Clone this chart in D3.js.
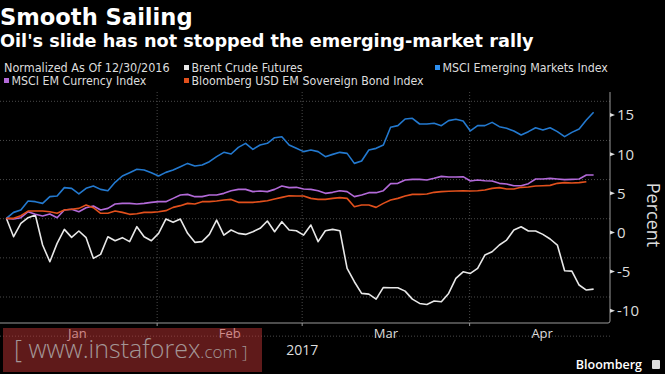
<!DOCTYPE html>
<html>
<head>
<meta charset="utf-8">
<script src="https://cdn.jsdelivr.net/npm/d3@7"></script>
<style>
  html, body { margin: 0; padding: 0; background: #000; }
  svg { display: block; }
</style>
</head>
<body>
<div class="container"></div>
<script>
// values are percent change, one per trading day from 12/30/2016
var brent = [1.80, -0.55, 1.16, 1.88, 2.22, -1.61, -3.74, -1.40, 0.39, -0.63, 0.18, -0.67,
  -3.31, -2.80, -0.55, -1.06, -0.67, -1.18, 0.73, -0.55, -1.06, -0.12, 1.71, 1.29, 1.71,
  -0.12, -1.27, -1.18, -0.25, 1.58, -0.34, 0.31, -0.12, -0.25, 0.09, 0.52, 1.46, 0.09,
  1.37, 0.31, 0.22, -0.34, 0.95, -1.18, 0.22, 0.39, 0.22, -4.60, -6.30, -7.79, -7.88,
  -8.52, -7.03, -7.07, -7.07, -7.50, -8.52, -9.07, -9.20, -8.77, -8.86, -7.79, -5.88,
  -5.03, -5.24, -4.60, -2.89, -2.47, -1.61, -0.98, 0.31, 0.73, 0.18, 0.18, -0.25, -0.84,
  -1.61, -4.89, -4.94, -6.72, -7.36, -7.24];
var msciEm = [1.80, 2.56, 2.86, 4.01, 3.93, 3.71, 4.57, 4.65, 5.72, 5.63, 4.91, 5.63, 5.93,
  5.50, 5.33, 6.40, 7.21, 7.63, 8.06, 7.97, 7.63, 7.21, 7.67, 7.97, 8.40, 8.82, 8.48, 8.61,
  9.04, 9.68, 10.23, 10.02, 10.87, 11.38, 10.61, 11.17, 11.38, 12.10, 12.23, 11.17, 10.74,
  10.32, 10.53, 10.32, 9.68, 9.97, 10.23, 10.10, 8.82, 9.12, 10.53, 10.74, 11.17, 13.43,
  13.64, 14.49, 14.58, 13.85, 13.85, 13.94, 13.64, 14.28, 14.45, 14.24, 12.96, 13.64,
  13.64, 14.06, 13.51, 13.30, 12.96, 12.44, 12.87, 13.38, 13.08, 13.38, 12.87, 12.23,
  12.78, 13.21, 14.37, 15.35];
var emCurrency = [1.80, 1.71, 1.88, 2.65, 2.31, 2.10, 2.35, 1.88, 2.86, 2.95, 2.65, 3.16,
  3.37, 2.86, 3.07, 3.63, 3.71, 3.71, 3.63, 3.71, 3.84, 3.93, 3.93, 4.35, 4.78, 4.86, 4.57,
  4.57, 4.78, 4.78, 4.99, 5.33, 5.50, 5.50, 5.21, 5.29, 5.21, 5.50, 5.93, 5.72, 5.76, 5.55,
  5.50, 5.33, 4.99, 5.12, 5.33, 5.21, 4.57, 4.78, 5.08, 5.08, 5.33, 6.23, 6.27, 6.70, 6.78,
  6.78, 6.70, 6.91, 7.16, 7.08, 7.08, 7.12, 6.57, 6.70, 6.61, 6.57, 6.27, 6.18, 5.97, 5.97,
  6.23, 6.82, 6.82, 6.91, 6.82, 6.74, 6.78, 6.82, 7.33, 7.33];
var emBond = [1.80, 1.80, 2.14, 2.73, 2.73, 2.73, 2.65, 2.44, 2.86, 2.95, 3.07, 3.50, 3.16,
  2.44, 2.44, 2.73, 2.56, 2.31, 2.39, 2.56, 2.56, 2.65, 2.78, 3.20, 3.42, 3.71, 3.63, 3.93,
  3.93, 4.01, 4.14, 4.22, 3.84, 3.84, 3.84, 3.93, 4.05, 4.27, 4.48, 4.69, 4.65, 4.65, 4.35,
  4.22, 4.22, 4.35, 4.44, 4.35, 3.29, 3.50, 3.50, 3.20, 3.71, 4.14, 4.35, 4.65, 4.86, 4.86,
  4.91, 5.12, 5.21, 5.25, 5.29, 5.33, 5.29, 5.33, 5.42, 5.63, 5.72, 5.55, 5.55, 5.76, 5.80,
  5.93, 5.97, 6.01, 6.27, 6.36, 6.31, 6.36, 6.48];

var months = ['Jan', 'Feb', 'Mar', 'Apr'];
// month edges, in trading-day index
var monthEdges = [-1.2, 20.8, 40.8, 63.9, 83.9];
var yTicks = [-10, -5, 0, 5, 10, 15];
// the dotted grid sits a little above each labelled tick in the picture
var gridShift = 1.75;

var seriesNames = ['Brent Crude Futures', 'MSCI Emerging Markets Index',
  'MSCI EM Currency Index', 'Bloomberg USD EM Sovereign Bond Index'];
var seriesColors = ['#e8e8e8', '#2379cf', '#b36ad9', '#e2501c'];
var seriesData = [brent, msciEm, emCurrency, emBond];

var width = 665, height = 374;
var plotLeft = 0, plotRight = 610, plotTop = 92, plotBottom = 323;

var svg = d3.select('.container').append('svg')
  .attr('width', width)
  .attr('height', height)
  .style('background', '#000');

var x = d3.scaleLinear().domain([-0.876, 83.26]).range([plotLeft, plotRight]);
var y = d3.scaleLinear().domain([-10, 15]).range([310.7, 115]);

// titles
svg.append('text').attr('x', 0).attr('y', 25)
  .attr('font-family', 'DejaVu Sans').attr('font-weight', 'bold').attr('font-size', 22.6)
  .attr('fill', '#fff').text('Smooth Sailing');
svg.append('text').attr('x', 0).attr('y', 47)
  .attr('font-family', 'DejaVu Sans').attr('font-weight', 'bold').attr('font-size', 17.7)
  .attr('fill', '#fff').text("Oil's slide has not stopped the emerging-market rally");

// legend
var legendFont = "'Liberation Sans Narrow', 'DejaVu Sans Condensed', sans-serif";
svg.append('text').attr('x', 4).attr('y', 72)
  .attr('font-family', legendFont).attr('font-size', 12.5).attr('fill', '#ddd')
  .text('Normalized As Of 12/30/2016');
var legendPos = [[184, 72], [435, 72], [4, 85], [184, 85]];
var legend = svg.append('g').selectAll('g')
  .data(seriesNames)
  .enter().append('g')
  .attr('transform', function(d, i) { return 'translate(' + legendPos[i][0] + ',' + legendPos[i][1] + ')'; });
legend.append('rect').attr('x', 0).attr('y', -7).attr('width', 5).attr('height', 5)
  .attr('fill', function(d, i) { return i == 1 ? '#2d8ff0' : seriesColors[i]; });
legend.append('text').attr('x', 7.5).attr('y', 0)
  .attr('font-family', legendFont).attr('font-size', 12.3).attr('fill', '#ddd')
  .text(function(d) { return d; });

// grid
var grid = svg.append('g').attr('stroke', '#4a4a4a').attr('stroke-dasharray', '1,2');
grid.selectAll('line.h')
  .data(yTicks.concat([20]).map(function(t) { return t - 5 + gridShift; }).filter(function(v) { return y(v) > plotTop; }))
  .enter().append('line')
  .attr('x1', plotLeft).attr('x2', plotRight)
  .attr('y1', function(d) { return y(d); }).attr('y2', function(d) { return y(d); });
grid.selectAll('line.v')
  .data(monthEdges.slice(1, 4))
  .enter().append('line')
  .attr('y1', plotTop).attr('y2', plotBottom)
  .attr('x1', function(d) { return x(d); }).attr('x2', function(d) { return x(d); });

// axes
svg.append('path')
  .attr('d', 'M' + plotLeft + ',' + plotBottom + 'H' + (plotRight - 2) + 'Q' + plotRight + ',' + plotBottom + ' ' + plotRight + ',' + (plotBottom - 2) + 'V' + plotTop)
  .attr('fill', 'none').attr('stroke', '#9a9a9a').attr('stroke-width', 1);
svg.append('g').selectAll('line')
  .data(monthEdges.slice(1, 4))
  .enter().append('line')
  .attr('x1', function(d) { return x(d); }).attr('x2', function(d) { return x(d); })
  .attr('y1', plotBottom).attr('y2', plotBottom + 3)
  .attr('stroke', '#9a9a9a');

var yAxis = svg.append('g');
yAxis.selectAll('path')
  .data(yTicks)
  .enter().append('path')
  .attr('d', function(d) { return 'M' + plotRight + ',' + (y(d) - 2) + 'L' + (plotRight + 5) + ',' + y(d) + 'L' + plotRight + ',' + (y(d) + 2) + 'Z'; })
  .attr('fill', '#ddd');
yAxis.selectAll('text')
  .data(yTicks)
  .enter().append('text')
  .attr('x', 617).attr('y', function(d) { return y(d); })
  .attr('dy', '0.36em')
  .attr('font-family', 'Open Sans, sans-serif').attr('font-size', 15).attr('fill', '#ddd')
  .text(function(d) { return d; });
svg.append('text')
  .attr('transform', 'translate(647,215) rotate(90)')
  .attr('text-anchor', 'middle')
  .attr('font-family', 'Open Sans, sans-serif').attr('font-size', 18).attr('fill', '#ddd')
  .text('Percent');

// month labels
svg.append('g').selectAll('text')
  .data(months)
  .enter().append('text')
  .attr('x', function(d, i) { return x((monthEdges[i] + monthEdges[i + 1]) / 2); })
  .attr('y', 338)
  .attr('text-anchor', 'middle')
  .attr('font-family', 'Open Sans, sans-serif').attr('font-size', 13).attr('fill', '#ddd')
  .text(function(d) { return d; });
svg.append('text').attr('x', x(monthEdges[2])).attr('y', 355)
  .attr('text-anchor', 'middle')
  .attr('font-family', 'Open Sans, sans-serif').attr('font-size', 14).attr('fill', '#ddd')
  .text('2017');

// lines
var line = d3.line()
  .x(function(d, i) { return x(i); })
  .y(function(d) { return y(d); });
svg.append('g').selectAll('path')
  .data(seriesData)
  .enter().append('path')
  .attr('d', line)
  .attr('fill', 'none')
  .attr('stroke', function(d, i) { return seriesColors[i]; })
  .attr('stroke-width', 1.6)
  .attr('stroke-linejoin', 'round');

// watermark
svg.append('rect').attr('x', 3).attr('y', 328).attr('width', 259).attr('height', 44)
  .attr('fill', 'rgb(193,54,54)').attr('opacity', 0.49);
var wm = svg.append('text').attr('x', 14).attr('y', 358)
  .attr('font-family', 'Open Sans, sans-serif').attr('font-weight', 300)
  .attr('fill', '#a39696');
wm.append('tspan').attr('font-size', 25).text('[ www.instaforex');
wm.append('tspan').attr('font-size', 17).text('.com ]');

// Bloomberg tag
svg.append('text').attr('x', 642).attr('y', 369).attr('text-anchor', 'end')
  .attr('font-family', 'Open Sans, sans-serif').attr('font-weight', 600).attr('font-size', 12.5)
  .attr('fill', '#fff').text('Bloomberg');
svg.append('rect').attr('x', 652).attr('y', 360).attr('width', 8).attr('height', 9)
  .attr('rx', 1).attr('fill', '#ddd');
</script>
</body>
</html>
